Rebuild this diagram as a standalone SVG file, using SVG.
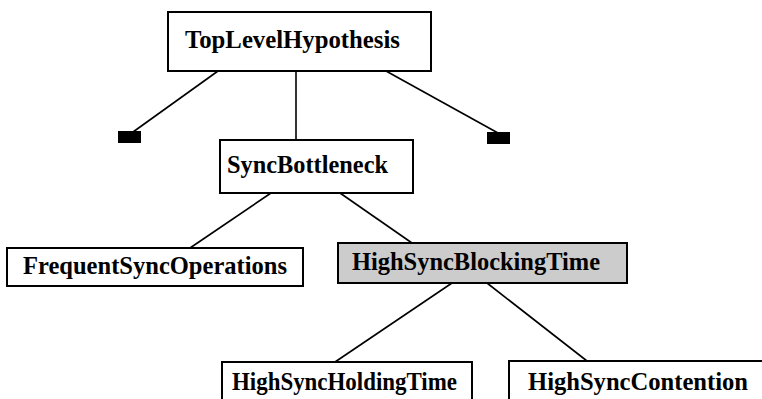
<svg xmlns="http://www.w3.org/2000/svg" width="762" height="399" viewBox="0 0 762 399">
  <style>
    .box { fill: #ffffff; stroke: #000000; stroke-width: 2; }
    .hl { fill: #cccccc; }
    .stub { fill: #000000; stroke: none; }
    .edge { stroke: #000000; stroke-width: 1.6; fill: none; }
    .lbl { font-family: "Liberation Serif", "Times New Roman", serif; font-weight: bold; font-size: 25px; fill: #000000; }
  </style>
  <rect width="762" height="399" fill="#ffffff"/>

  <!-- tree edges -->
  <g id="connectors">
    <line class="edge" x1="218" y1="71" x2="133" y2="132"/>
    <line class="edge" x1="296" y1="71" x2="296" y2="139"/>
    <line class="edge" x1="386" y1="71" x2="498" y2="133"/>
    <line class="edge" x1="271" y1="193" x2="190" y2="248"/>
    <line class="edge" x1="340" y1="193" x2="412" y2="243"/>
    <line class="edge" x1="452" y1="283" x2="335" y2="362"/>
    <line class="edge" x1="487" y1="283" x2="587" y2="361"/>
  </g>

  <g id="stub-left">
    <rect class="stub" x="118" y="131" width="23" height="12"/>
  </g>
  <g id="stub-right">
    <rect class="stub" x="487" y="132" width="23" height="12"/>
  </g>

  <g id="TopLevelHypothesis">
    <rect class="box" x="168" y="12" width="263" height="59"/>
    <text class="lbl" x="185" y="48" textLength="215" lengthAdjust="spacingAndGlyphs">TopLevelHypothesis</text>
  </g>

  <g id="SyncBottleneck">
    <rect class="box" x="220" y="140" width="193" height="53"/>
    <text class="lbl" x="227" y="173" textLength="161" lengthAdjust="spacingAndGlyphs">SyncBottleneck</text>
  </g>

  <g id="FrequentSyncOperations">
    <rect class="box" x="7" y="248" width="296" height="38"/>
    <text class="lbl" x="23" y="274" textLength="264" lengthAdjust="spacingAndGlyphs">FrequentSyncOperations</text>
  </g>

  <g id="HighSyncBlockingTime">
    <rect class="box hl" x="338" y="243" width="289" height="40"/>
    <text class="lbl" x="352" y="270" textLength="248" lengthAdjust="spacingAndGlyphs">HighSyncBlockingTime</text>
  </g>

  <g id="HighSyncHoldingTime">
    <rect class="box" x="222" y="362" width="250" height="40"/>
    <text class="lbl" x="232" y="390" textLength="225" lengthAdjust="spacingAndGlyphs">HighSyncHoldingTime</text>
  </g>

  <g id="HighSyncContention">
    <rect class="box" x="509" y="361" width="260" height="41"/>
    <text class="lbl" x="528" y="390" textLength="220" lengthAdjust="spacingAndGlyphs">HighSyncContention</text>
  </g>
</svg>
